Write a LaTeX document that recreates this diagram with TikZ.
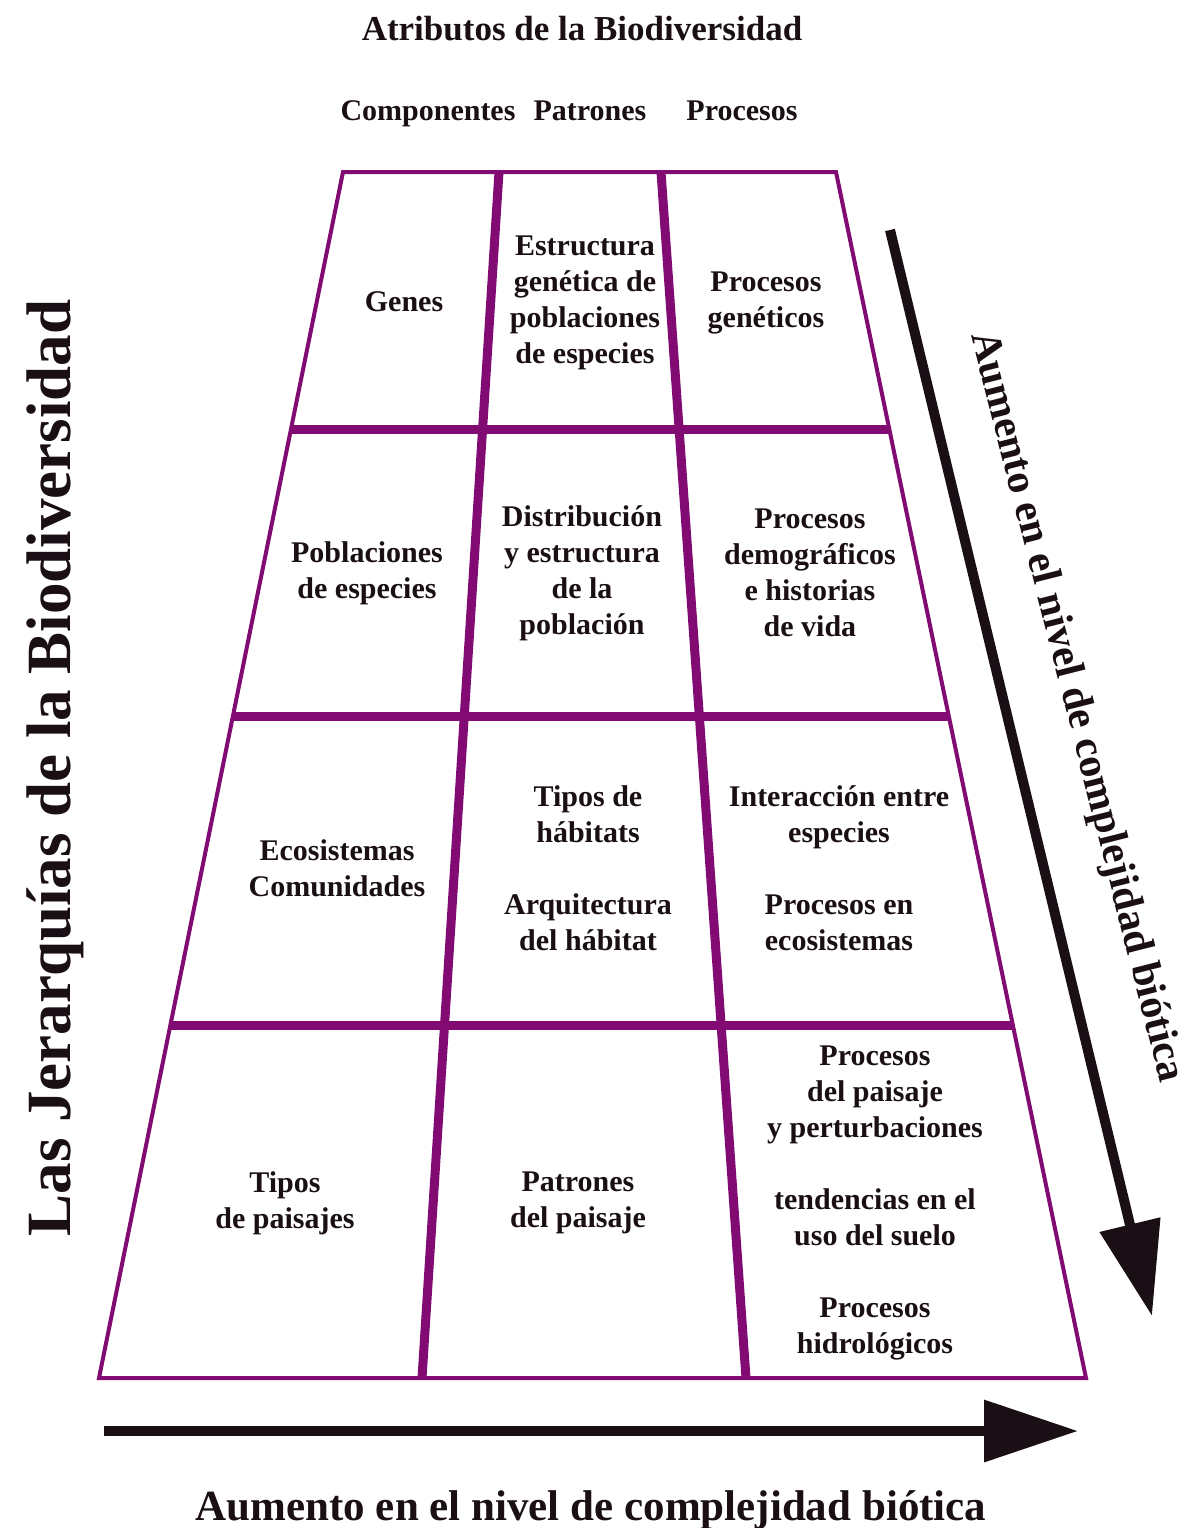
\documentclass[tikz,border=0pt]{standalone}
\usepackage{fontspec}
\setmainfont{Liberation Serif}
\usetikzlibrary{calc,arrows.meta}
\definecolor{gridpurple}{RGB}{130,10,115}
\definecolor{inkblack}{RGB}{25,15,20}

\begin{document}
\begin{tikzpicture}[
  x=0.5pt, y=-0.5pt,
  frame/.style={draw=gridpurple, line width=2pt, line join=miter},
  divline/.style={draw=gridpurple, line width=4.5pt},
  bigarrow/.style={-{Triangle[length=47pt,width=30pt]}, line width=5pt, inkblack},
  cell/.style={align=center, font=\bfseries\fontsize{15}{18}\selectfont},
  head/.style={anchor=base, font=\bfseries\fontsize{15}{18}\selectfont},
  axislabel/.style={font=\bfseries\fontsize{21.5}{24}\selectfont},
  every node/.style={inner sep=0pt, text=inkblack}
]
  \useasboundingbox (0,0) rectangle (1194,1528);

  % Titles
  \node[head, font=\bfseries\fontsize{17.5}{20}\selectfont] (title) at (582,40) {Atributos de la Biodiversidad};
  \node[head] (hcomp) at (428,120) {Componentes};
  \node[head] (hpat)  at (590,120) {Patrones};
  \node[head] (hproc) at (742,120) {Procesos};

  % Trapezoid corners and column dividers
  \coordinate (tl) at (343,172);
  \coordinate (tr) at (836,172);
  \coordinate (bl) at (99,1378);
  \coordinate (br) at (1086,1378);
  \coordinate (d1t) at (499,172);
  \coordinate (d1b) at (422,1378);
  \coordinate (d2t) at (661,172);
  \coordinate (d2b) at (746,1378);

  % Grid: rows, columns, outline
  \foreach \f in {0.2131,0.4511,0.7073}
    \draw[divline] ($(tl)!\f!(bl)$) -- ($(tr)!\f!(br)$);
  \draw[divline] (d1t) -- (d1b);
  \draw[divline] (d2t) -- (d2b);
  \draw[frame] (tl) -- (tr) -- (br) -- (bl) -- cycle;

  % Row 1
  \node[cell] (genes)   at (404,302) {Genes};
  \node[cell] (estgen)  at (585,303) {Estructura\\genética de\\poblaciones\\de especies};
  \node[cell] (procgen) at (766,303) {Procesos\\genéticos};

  % Row 2
  \node[cell] (pobesp)  at (367,573) {Poblaciones\\de especies};
  \node[cell] (distrib) at (582,573) {Distribución\\y estructura\\de la\\población};
  \node[cell] (procdem) at (810,573) {Procesos\\demográficos\\e historias\\de vida};

  % Row 3
  \node[cell] (ecocom)  at (337,868) {Ecosistemas\\Comunidades};
  \node[cell] (habitat) at (588,868) {Tipos de\\hábitats\\[18pt]Arquitectura\\del hábitat};
  \node[cell] (interac) at (839,868) {Interacción entre\\especies\\[18pt]Procesos en\\ecosistemas};

  % Row 4
  \node[cell] (tipopai) at (285,1203) {Tipos\\de paisajes};
  \node[cell] (patpai)  at (578,1203) {Patrones\\del paisaje};
  \node[cell] (procpai) at (875,1203) {Procesos\\del paisaje\\y perturbaciones\\[18pt]tendencias en el\\uso del suelo\\[18pt]Procesos\\hidrológicos};

  % Axes
  \node[anchor=base, rotate=90, font=\bfseries\fontsize{31.5}{34}\selectfont] (jerarq) at (70,768) {Las Jerarquías de la Biodiversidad};
  \coordinate (vtail) at (890,230);
  \coordinate (vtip) at (1152,1316);
  \draw[bigarrow] (vtail) -- (vtip);
  \node[axislabel, rotate=-75.8, font=\bfseries\fontsize{21}{24}\selectfont] (vlabel) at (1076,707) {Aumento en el nivel de complejidad biótica};
  \coordinate (htail) at (104,1431);
  \coordinate (htip) at (1078,1431);
  \draw[bigarrow] (htail) -- (htip);
  \node[axislabel, anchor=base] (hlabel) at (591,1520) {Aumento en el nivel de complejidad biótica};

\end{tikzpicture}
\end{document}
